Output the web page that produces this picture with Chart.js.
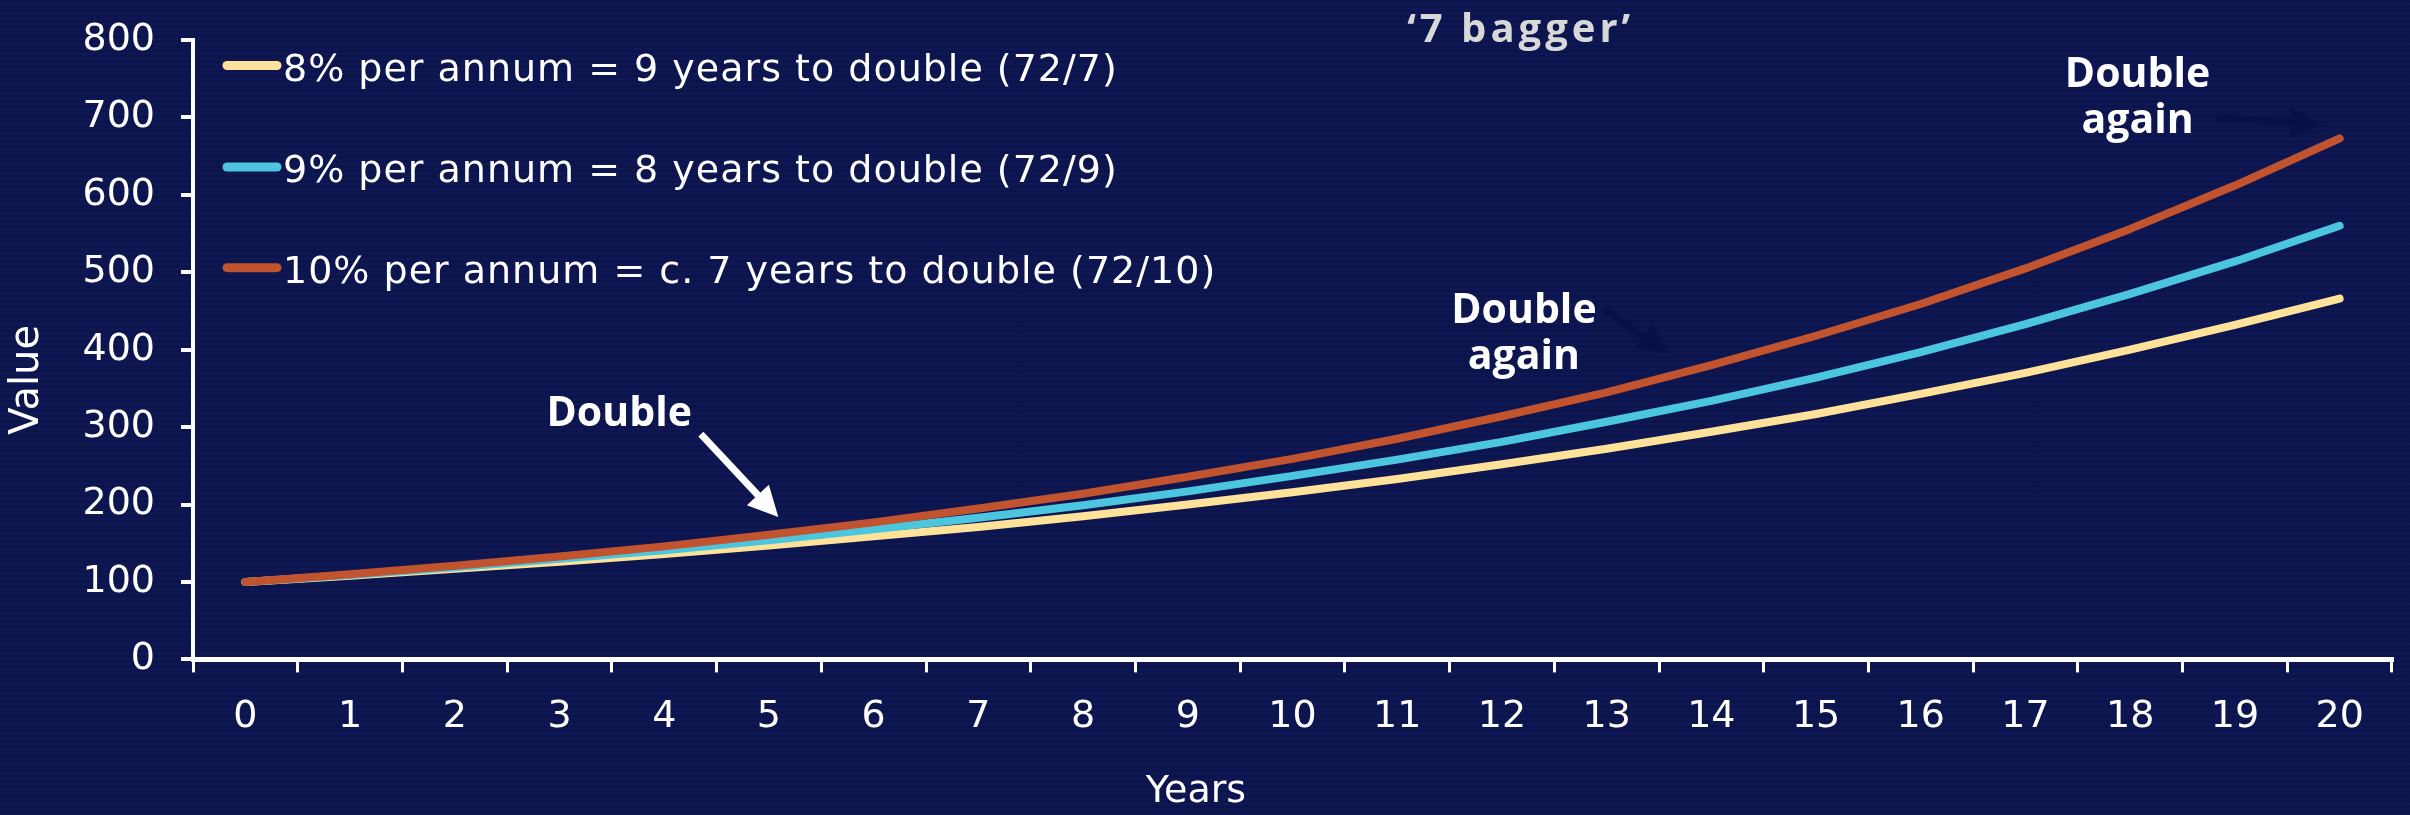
<!DOCTYPE html>
<html>
<head>
<meta charset="utf-8">
<script src="https://cdn.jsdelivr.net/npm/chart.js@4.4.1/dist/chart.umd.min.js"></script>
<style>
html, body { margin: 0; padding: 0; background: #0c1550; }
#wrap {
  width: 2410px; height: 815px; position: relative;
  background-color: #0c1550;
  background-image: repeating-linear-gradient(0deg, rgba(255,255,255,0.012) 0px, rgba(255,255,255,0.012) 2px, rgba(0,0,0,0.035) 2px, rgba(0,0,0,0.035) 5px);
}
canvas { display: block; }
</style>
</head>
<body>
<div id="wrap"><canvas id="chart"></canvas></div>
<script>
// ---- data ----
const years = ['0','1','2','3','4','5','6','7','8','9','10','11','12','13','14','15','16','17','18','19','20'];
const value8pct  = [100,108,117,126,136,147,159,171,185,200,216,233,252,272,294,317,343,370,400,432,466];
const value9pct  = [100,109,119,130,141,154,168,183,199,217,237,258,281,307,334,364,397,433,472,514,560];
const value10pct = [100,110,121,133,146,161,177,195,214,236,259,285,314,345,380,418,459,505,556,612,673];
const seriesNames = [
  '8% per annum = 9 years to double (72/7)',
  '9% per annum = 8 years to double (72/9)',
  '10% per annum = c. 7 years to double (72/10)'
];
const yAxisTitle = 'Value';
const xAxisTitle = 'Years';
const topNote = '\u20187 bagger\u2019';
const noteDouble = ['Double'];
const noteDoubleAgain = ['Double', 'again'];

// ---- styling ----
const COL_8 = '#FFE29A';
const COL_9 = '#4CC6DF';
const COL_10 = '#C1532E';
const WHITE = '#ffffff';
const REG_FONT = "'DejaVu Sans', 'Open Sans', sans-serif";
const BOLD_FONT = "'Open Sans', 'DejaVu Sans', sans-serif";

// legend rows anchored at y-values (row centres)
const legendRowValues = [767, 636, 506];

// annotations in data units (x = category index, y = value)
const annotations = [
  { lines: [topNote], x: 12.16, y: 797, color: '#d8d8d8', size: 40, lh: 45, spacing: 4 },
  { lines: noteDoubleAgain, x: 18.07, y: 739, color: WHITE, size: 41, lh: 46, spacing: 0 },
  { lines: noteDoubleAgain, x: 12.21, y: 435, color: WHITE, size: 41, lh: 46, spacing: 0 },
  { lines: noteDouble, x: 3.57, y: 301, color: WHITE, size: 41, lh: 46, spacing: 0 }
];
const arrows = [
  { from: [4.35, 291], to: [5.09, 184], color: WHITE, width: 7 },
  { from: [12.97, 453], to: [13.59, 395], color: '#071048', width: 7 },
  { from: [18.83, 701], to: [19.82, 690], color: '#071048', width: 7 }
];

function drawArrow(ctx, x1, y1, x2, y2, color, w) {
  const ang = Math.atan2(y2 - y1, x2 - x1);
  const headLen = 30, headW = 15;
  const bx = x2 - headLen * Math.cos(ang), by = y2 - headLen * Math.sin(ang);
  ctx.strokeStyle = color; ctx.fillStyle = color; ctx.lineWidth = w; ctx.lineCap = 'butt';
  ctx.beginPath(); ctx.moveTo(x1, y1); ctx.lineTo(bx + 2 * Math.cos(ang), by + 2 * Math.sin(ang)); ctx.stroke();
  ctx.beginPath();
  ctx.moveTo(x2, y2);
  ctx.lineTo(bx + headW * Math.sin(ang), by - headW * Math.cos(ang));
  ctx.lineTo(bx - headW * Math.sin(ang), by + headW * Math.cos(ang));
  ctx.closePath(); ctx.fill();
}

const overlayPlugin = {
  id: 'overlay',
  afterDatasetsDraw(chart) {
    const { ctx, chartArea } = chart;
    const xs = chart.scales.x, ys = chart.scales.y;
    ctx.save();
    // legend inside chart area
    chart.data.datasets.forEach((ds, i) => {
      const cy = ys.getPixelForValue(legendRowValues[i]);
      ctx.strokeStyle = ds.borderColor; ctx.lineWidth = 9; ctx.lineCap = 'round';
      ctx.beginPath(); ctx.moveTo(chartArea.left + 34, cy); ctx.lineTo(chartArea.left + 84, cy); ctx.stroke();
      ctx.fillStyle = WHITE; ctx.font = "38px " + REG_FONT;
      if ('letterSpacing' in ctx) ctx.letterSpacing = '1px';
      ctx.textAlign = 'left'; ctx.textBaseline = 'alphabetic';
      ctx.fillText(ds.label, chartArea.left + 90, cy + 15);
      if ('letterSpacing' in ctx) ctx.letterSpacing = '0px';
    });
    // y axis title
    ctx.save();
    ctx.translate(28, ys.getPixelForValue(361));
    ctx.rotate(-Math.PI / 2);
    ctx.fillStyle = WHITE; ctx.font = "40px " + REG_FONT;
    ctx.textAlign = 'center'; ctx.textBaseline = 'middle';
    ctx.fillText(yAxisTitle, 0, 0);
    ctx.restore();
    // text annotations
    annotations.forEach(a => {
      ctx.fillStyle = a.color; ctx.font = "bold " + a.size + "px " + BOLD_FONT;
      if ('letterSpacing' in ctx) ctx.letterSpacing = a.spacing + 'px';
      ctx.textAlign = 'center'; ctx.textBaseline = 'alphabetic';
      const px = xs.getPixelForValue(a.x), py = ys.getPixelForValue(a.y);
      a.lines.forEach((t, k) => ctx.fillText(t, px + a.spacing / 2, py + k * a.lh));
      if ('letterSpacing' in ctx) ctx.letterSpacing = '0px';
    });
    arrows.forEach(a => {
      drawArrow(ctx, xs.getPixelForValue(a.from[0]), ys.getPixelForValue(a.from[1]),
                xs.getPixelForValue(a.to[0]), ys.getPixelForValue(a.to[1]), a.color, a.width);
    });
    ctx.restore();
  }
};

const lineStyle = { borderWidth: 8, pointRadius: 0, pointHoverRadius: 0, tension: 0, fill: false,
  borderCapStyle: 'round', borderJoinStyle: 'round' };

new Chart(document.getElementById('chart'), {
  type: 'line',
  data: {
    labels: years,
    datasets: [
      Object.assign({ label: seriesNames[0], data: value8pct, borderColor: COL_8, backgroundColor: COL_8, order: 2 }, lineStyle),
      Object.assign({ label: seriesNames[1], data: value9pct, borderColor: COL_9, backgroundColor: COL_9, order: 1 }, lineStyle),
      Object.assign({ label: seriesNames[2], data: value10pct, borderColor: COL_10, backgroundColor: COL_10, order: 0 }, lineStyle)
    ]
  },
  options: {
    responsive: true,
    maintainAspectRatio: false,
    devicePixelRatio: 1,
    animation: false,
    layout: { padding: { top: 40, right: 18, left: 0, bottom: 0 } },
    plugins: {
      legend: { display: false },
      tooltip: { enabled: false },
      title: {
        display: true, position: 'bottom', text: xAxisTitle, color: WHITE,
        font: { family: REG_FONT, size: 38, weight: 'normal', lineHeight: 1.2 },
        padding: { top: 8, bottom: 0 }
      }
    },
    scales: {
      x: {
        type: 'category',
        offset: true,
        afterFit(scale) { scale.height = 102; scale.paddingLeft = 0; scale.paddingRight = 0; },
        grid: { offset: true, drawOnChartArea: false, drawTicks: true, tickLength: 13, color: WHITE, lineWidth: 3 },
        border: { display: true, color: WHITE, width: 5 },
        ticks: { color: WHITE, font: { family: REG_FONT, size: 38 }, padding: 22, maxRotation: 0, autoSkip: false }
      },
      y: {
        min: 0, max: 800,
        afterFit(scale) { scale.width = 193; scale.paddingTop = 0; scale.paddingBottom = 0; },
        grid: { drawOnChartArea: false, drawTicks: true, tickLength: 12, color: WHITE, lineWidth: 4 },
        border: { display: true, color: WHITE, width: 4 },
        ticks: { stepSize: 100, color: WHITE, font: { family: REG_FONT, size: 38 }, padding: 26 }
      }
    }
  },
  plugins: [overlayPlugin]
});
</script>
</body>
</html>
